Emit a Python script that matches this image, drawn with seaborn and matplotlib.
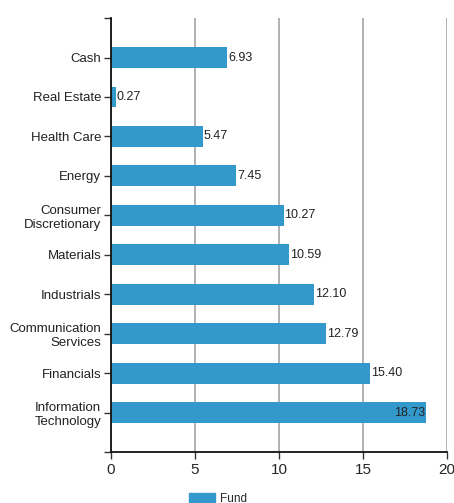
import seaborn as sns
import matplotlib.pyplot as plt
import pandas as pd

sectors = ['Cash', 'Real Estate', 'Health Care', 'Energy', 'Consumer\nDiscretionary',
           'Materials', 'Industrials', 'Communication\nServices', 'Financials',
           'Information\nTechnology']
weights = [6.93, 0.27, 5.47, 7.45, 10.27, 10.59, 12.10, 12.79, 15.40, 18.73]
series_name = 'Fund'

df = pd.DataFrame({'Sector': sectors, 'Weight': weights, 'Series': series_name})

sns.set_theme(style='white')
plt.rcParams['font.family'] = ['Liberation Sans', 'DejaVu Sans']

fig = plt.figure(figsize=(4.54, 5.03), dpi=100)
ax = fig.add_axes([0.2445, 0.1014, 0.7401, 0.8626])

sns.barplot(data=df, x='Weight', y='Sector', hue='Series', palette=['#3399cc'],
            orient='h', width=0.53, ax=ax, legend=False, saturation=1, linewidth=0)

ax.set_xlim(0, 20)
ax.set_ylim(10, -1)
ax.set_xticks([0, 5, 10, 15, 20])
ax.xaxis.grid(True, color='#aaaaaa', linewidth=1.3)
ax.set_axisbelow(True)
ax.set_xlabel('')
ax.set_ylabel('')

ax.set_yticks([-1] + list(range(len(sectors))) + [10])
ax.set_yticklabels([''] + sectors + [''], fontsize=9.5, color='#222222')
ax.tick_params(axis='y', length=5, width=1, color='#333333', left=True, pad=2)
ax.tick_params(axis='x', length=5, width=1, color='#333333', bottom=True,
               labelsize=11, pad=3)

for s in ['top', 'right']:
    ax.spines[s].set_visible(False)
for s in ['left', 'bottom']:
    ax.spines[s].set_color('#111111')
    ax.spines[s].set_linewidth(1.3)

for i, v in enumerate(weights):
    if v > 18:
        ax.text(v - 0.05, i, f'{v:.2f}', va='center', ha='right', fontsize=9, color='#222222')
    else:
        ax.text(v + 0.05, i, f'{v:.2f}', va='center', ha='left', fontsize=9, color='#222222')

handle = plt.Rectangle((0, 0), 1, 1, color='#3399cc')
fig.legend([handle], [series_name], loc='upper left', bbox_to_anchor=(0.405, 0.03),
           frameon=False, fontsize=8.5, handlelength=2.2, handleheight=0.7,
           handletextpad=0.5, borderaxespad=0)

fig.savefig('out.png', dpi=100)
